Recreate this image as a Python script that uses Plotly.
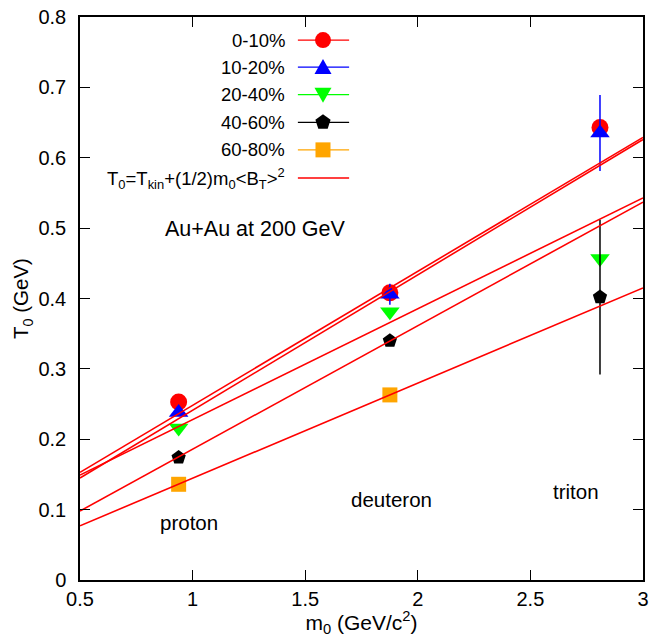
import plotly.graph_objects as go

# ---------------- data ----------------
particles = ["proton", "deuteron", "triton"]
mass = [0.938, 1.876, 2.809]

centralities = ["0-10%", "10-20%", "20-40%", "40-60%", "60-80%"]
t0_0_10 = [0.253, 0.408, 0.643]
t0_10_20 = [0.238, 0.406, 0.635]
t0_20_40 = [0.216, 0.381, 0.457]
t0_40_60 = [0.174, 0.340, 0.402]
t0_60_80 = [0.136, 0.263, None]

err_10_20 = [0.0, 0.015, 0.054]
err_40_60 = [0.0, 0.0, 0.11]

# linear fits T0 = Tkin + (1/2) m0 <B_T>^2
fit_tkin = [0.0578, 0.0488, 0.0702, 0.0102, 0.0094]
fit_half_bt2 = [0.1904, 0.1924, 0.1576, 0.1756, 0.1352]
fit_m_range = [0.5, 3.0]

colors = ["#ff0000", "#0000ff", "#00ff00", "#000000", "#ffa500"]
symbols = ["circle", "triangle-up", "triangle-down", "pentagon", "square"]
sizes = [17, 17, 17, 15, 15]

series = [t0_0_10, t0_10_20, t0_20_40, t0_40_60, t0_60_80]
errors = [None, err_10_20, None, err_40_60, None]

FONT = "Liberation Sans, Arial, Helvetica, sans-serif"

fig = go.Figure()

for name, ys, col, sym, sz, err in zip(centralities, series, colors, symbols, sizes, errors):
    xs = [m for m, y in zip(mass, ys) if y is not None]
    yv = [y for y in ys if y is not None]
    kw = {}
    if err is not None:
        kw["error_y"] = dict(type="data", array=err[:len(yv)], color=col,
                             thickness=1.5, width=0, visible=True)
    fig.add_trace(go.Scatter(x=xs, y=yv, mode="markers", name=name,
                             marker=dict(color=col, symbol=sym, size=sz,
                                         line=dict(width=0)),
                             showlegend=False, **kw))

for a, b in zip(fit_tkin, fit_half_bt2):
    fig.add_trace(go.Scatter(x=fit_m_range, y=[a + b * m for m in fit_m_range],
                             mode="lines", line=dict(color="#ff0000", width=1.6),
                             showlegend=False, hoverinfo="skip"))

# ---------------- custom legend (text left, key right) ----------------
leg_text = centralities + ["T<sub>0</sub>=T<sub>kin</sub>+(1/2)m<sub>0</sub>&lt;B<sub>T</sub>&gt;<sup>2</sup>"]
leg_y = [0.959, 0.911, 0.862, 0.813, 0.764, 0.714]
leg_cols = colors + ["#ff0000"]
text_x = 0.368
line_x0, line_x1 = 0.387, 0.478
mark_x = 0.4316

annotations = []
shapes = []
for i, (t, y, c) in enumerate(zip(leg_text, leg_y, leg_cols)):
    annotations.append(dict(x=text_x, y=y, xref="paper", yref="paper", text=t,
                            showarrow=False, xanchor="right", yanchor="middle",
                            font=dict(family=FONT, size=18.5, color="black")))
    shapes.append(dict(type="line", xref="paper", yref="paper",
                       x0=line_x0, x1=line_x1, y0=y, y1=y,
                       line=dict(color=c, width=1.3)))

def pshape(path, y, col):
    return dict(type="path", xref="paper", yref="paper",
                xsizemode="pixel", ysizemode="pixel",
                xanchor=mark_x, yanchor=y, path=path,
                fillcolor=col, line=dict(width=0))

# circle
shapes.append(dict(type="circle", xref="paper", yref="paper",
                   xsizemode="pixel", ysizemode="pixel",
                   xanchor=mark_x, yanchor=leg_y[0], x0=-8, x1=8, y0=-8, y1=8,
                   fillcolor=colors[0], line=dict(width=0)))
# triangle up
shapes.append(pshape("M -8.5 -7 L 8.5 -7 L 0 8 Z", leg_y[1], colors[1]))
# triangle down
shapes.append(pshape("M -8.5 7 L 8.5 7 L 0 -8 Z", leg_y[2], colors[2]))
# pentagon
shapes.append(pshape("M 0 8 L 7.6 2.5 L 4.7 -6.5 L -4.7 -6.5 L -7.6 2.5 Z", leg_y[3], colors[3]))
# square
shapes.append(pshape("M -7.5 -7.5 L 7.5 -7.5 L 7.5 7.5 L -7.5 7.5 Z", leg_y[4], colors[4]))

# text labels in data coordinates
annotations.append(dict(x=1.28, y=0.499, xref="x", yref="y", text="Au+Au at 200 GeV",
                        showarrow=False, font=dict(family=FONT, size=21.5, color="black")))
for p, (lx, ly) in zip(particles, [(0.983, 0.082), (1.883, 0.114), (2.703, 0.126)]):
    annotations.append(dict(x=lx, y=ly, xref="x", yref="y", text=p, showarrow=False,
                            font=dict(family=FONT, size=20.5, color="black")))

axis_common = dict(showline=True, linecolor="black", linewidth=1.5, mirror="ticks",
                   ticks="inside", ticklen=10, tickwidth=1.3, tickcolor="black",
                   showgrid=False, zeroline=False, automargin=False,
                   ticklabeloverflow="allow",
                   tickfont=dict(family=FONT, size=20, color="black"))

fig.update_layout(
    width=649, height=637,
    margin=dict(l=80, r=6, t=17, b=57),
    paper_bgcolor="white", plot_bgcolor="white",
    showlegend=False,
    xaxis=dict(range=[0.5, 3.0], tickvals=[0.5, 1, 1.5, 2, 2.5, 3],
               ticktext=["0.5", "1", "1.5", "2", "2.5", "3"],
               title=dict(text="m<sub>0</sub> (GeV/c<sup>2</sup>)", standoff=2,
                          font=dict(family=FONT, size=21, color="black")),
               **axis_common),
    yaxis=dict(range=[0, 0.8], tickvals=[0, 0.1, 0.2, 0.3, 0.4, 0.5, 0.6, 0.7, 0.8],
               ticktext=["0", "0.1", "0.2", "0.3", "0.4", "0.5", "0.6", "0.7", "0.8"],
               ticklabelstandoff=8,
               title=dict(text="T<sub>0</sub> (GeV)", standoff=4,
                          font=dict(family=FONT, size=20.5, color="black")),
               **axis_common),
    annotations=annotations,
    shapes=shapes,
)

# remove the page's default 8px body margin so the figure sits at the window origin
fig.write_html("out.html", config={"displayModeBar": False},
               post_script="document.body.style.margin='0px';document.body.style.overflow='hidden';")
